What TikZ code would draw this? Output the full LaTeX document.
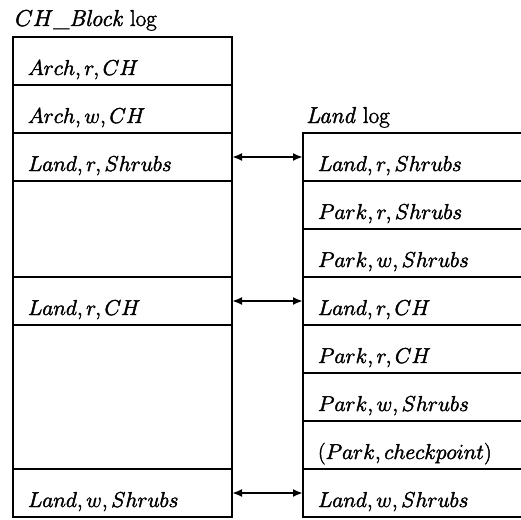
\documentclass[tikz,border=0pt]{standalone}
\usepackage{fix-cm}
\usetikzlibrary{arrows.meta}

% heavier glyphs: fill and stroke the text outlines, inside a saved graphics state
\newcommand{\heavy}[1]{\special{pdf:literal q 2 Tr 0.45 w}#1\special{pdf:literal Q}}

\begin{document}
\begin{tikzpicture}[x=1pt,y=-1pt,
  every node/.style={font=\fontsize{21.5}{25}\selectfont},
  logline/.style={line width=2pt},
  % one slot of a log; text sits in the lower part of the slot
  logcell/.style={draw, logline, rectangle, anchor=north west, outer sep=0pt,
    minimum height=48pt, inner xsep=15pt, inner ysep=0pt,
    text height=28pt, text depth=0pt, align=left},
  leftcell/.style={logcell, minimum width=219pt, text width=189pt},
  rightcell/.style={logcell, minimum width=226pt, text width=196pt},
  gap/.style={draw, logline, rectangle, anchor=north west, inner sep=0pt,
    outer sep=0pt, minimum width=219pt, minimum height=#1},
  title/.style={anchor=base west, inner sep=0pt, font=\fontsize{23}{27}\selectfont},
  link/.style={line width=2pt, {Latex[length=10pt,width=8pt]}-{Latex[length=10pt,width=8pt]}}
]
\useasboundingbox (0,0) rectangle (521,519);

% CH_Block log
\node[title] (lt) at (15,26) {\heavy{$CH$\_\textit{Block} log}};
\node[leftcell] (l1) at (13,37) {\heavy{$Arch,r,CH$}};
\node[leftcell] (l2) at (l1.south west) {\heavy{$Arch,w,CH$}};
\node[leftcell] (l3) at (l2.south west) {\heavy{$Land,r,Shrubs$}};
\node[gap=96pt] (l4) at (l3.south west) {};
\node[leftcell] (l5) at (l4.south west) {\heavy{$Land,r,CH$}};
\node[gap=144pt] (l6) at (l5.south west) {};
\node[leftcell] (l7) at (l6.south west) {\heavy{$Land,w,Shrubs$}};

% Land log
\node[title] (rt) at (306,123) {\heavy{\textit{Land} log}};
\node[rightcell] (r1) at (303,133) {\heavy{$Land,r,Shrubs$}};
\node[rightcell] (r2) at (r1.south west) {\heavy{$Park,r,Shrubs$}};
\node[rightcell] (r3) at (r2.south west) {\heavy{$Park,w,Shrubs$}};
\node[rightcell] (r4) at (r3.south west) {\heavy{$Land,r,CH$}};
\node[rightcell] (r5) at (r4.south west) {\heavy{$Park,r,CH$}};
\node[rightcell] (r6) at (r5.south west) {\heavy{$Park,w,Shrubs$}};
\node[rightcell] (r7) at (r6.south west) {\heavy{$(Park,checkpoint)$}};
\node[rightcell] (r8) at (r7.south west) {\heavy{$Land,w,Shrubs$}};

% matching entries
\draw[link] (l3.east) -- (r1.west);
\draw[link] (l5.east) -- (r4.west);
\draw[link] (l7.east) -- (r8.west);
\end{tikzpicture}
\end{document}
